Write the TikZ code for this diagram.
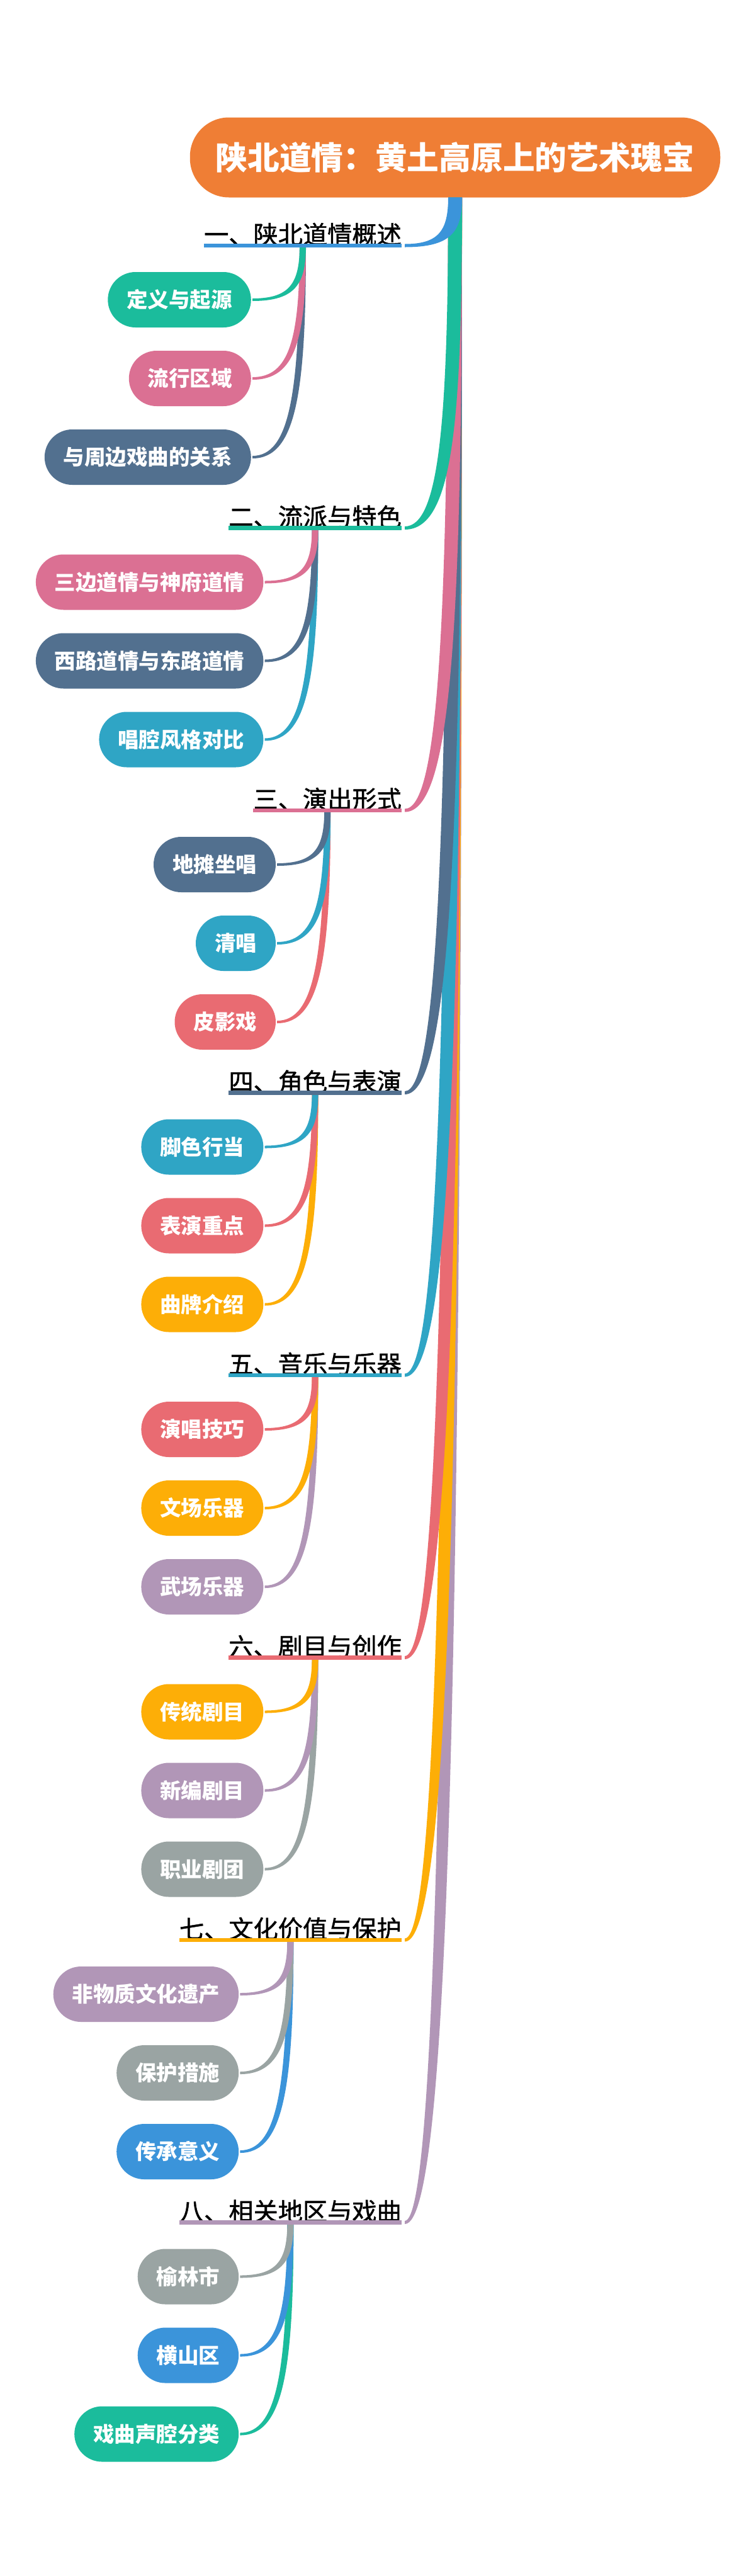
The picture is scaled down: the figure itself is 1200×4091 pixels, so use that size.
\documentclass[tikz,border=0pt]{standalone}
\usepackage{fontspec}
\setmainfont{Noto Sans CJK SC}
\newfontfamily\topicfont{Noto Sans CJK SC}[FakeBold=1.2]
\usetikzlibrary{calc}

\definecolor{cRoot}{HTML}{EF7E35}
\definecolor{cBlue}{HTML}{3B94DA}
\definecolor{cTeal}{HTML}{1BBC9C}
\definecolor{cPink}{HTML}{DB7093}
\definecolor{cSlate}{HTML}{52708F}
\definecolor{cCyan}{HTML}{2FA5C5}
\definecolor{cSalmon}{HTML}{E96B72}
\definecolor{cAmber}{HTML}{FDAE07}
\definecolor{cLilac}{HTML}{B196B7}
\definecolor{cGray}{HTML}{9AA4A3}

% tapered curve: colour, from, to, start width, end width
\newcommand{\limb}[5]{%
  \fill[#1] let \p1=(#2), \p2=(#3) in
    ({\x1-#4/2},\y1) .. controls ({\x1-#4/2},{\y1+0.7*(\y2-\y1)}) and ({\x1-0.2*(\x1-\x2)-#4/2},{\y2+#5/2}) .. (\x2,{\y2+#5/2})
    -- (\x2,{\y2-#5/2}) .. controls ({\x1-0.2*(\x1-\x2)+#4/2},{\y2-#5/2}) and ({\x1+#4/2},{\y1+0.7*(\y2-\y1)}) .. ({\x1+#4/2},\y1) -- cycle;
}

\begin{document}
\begin{tikzpicture}[
    x=1pt, y=-1pt,
    root/.style={%
      fill=cRoot, text=white,
      font=\bfseries\fontsize{50.7}{60}\selectfont,
      rounded corners=62pt, minimum height=127pt,
      inner xsep=41pt, inner ysep=0pt,
    },
    topic/.style={%
      anchor=base east, inner sep=0pt,
      font=\topicfont\fontsize{39.2}{46}\selectfont,
    },
    leaf/.style={%
      fill=#1, text=white, anchor=east,
      font=\bfseries\fontsize{33.5}{40}\selectfont,
      rounded corners=44pt, minimum height=88pt,
      inner xsep=30pt, inner ysep=0pt,
    },
    uline/.style={draw=#1, line width=6.5pt},
  ]
    \fill[white] (0,0) rectangle (1200,4091);

    \node [root] (root) at (723,250) {陕北道情：黄土高原上的艺术瑰宝};

    \node [topic] (overview) at (638,387) {一、陕北道情概述};
    \node [topic] (schools) at (638,835.5) {二、流派与特色};
    \node [topic] (forms) at (638,1284) {三、演出形式};
    \node [topic] (roles) at (638,1732.5) {四、角色与表演};
    \node [topic] (music) at (638,2181) {五、音乐与乐器};
    \node [topic] (repertoire) at (638,2629.5) {六、剧目与创作};
    \node [topic] (heritage) at (638,3078) {七、文化价值与保护};
    \node [topic] (region) at (638,3526.5) {八、相关地区与戏曲};

    \node [leaf=cTeal] (origin) at ([shift={(-82,89)}]overview.base) {定义与起源};
    \node [leaf=cPink] (area) at ([shift={(-82,214)}]overview.base) {流行区域};
    \node [leaf=cSlate] (kin) at ([shift={(-82,339)}]overview.base) {与周边戏曲的关系};

    \node [leaf=cPink] (sanbian) at ([shift={(-82,89)}]schools.base) {三边道情与神府道情};
    \node [leaf=cSlate] (xilu) at ([shift={(-82,214)}]schools.base) {西路道情与东路道情};
    \node [leaf=cCyan] (tunes) at ([shift={(-82,339)}]schools.base) {唱腔风格对比};

    \node [leaf=cSlate] (ditan) at ([shift={(-82,89)}]forms.base) {地摊坐唱};
    \node [leaf=cCyan] (qingchang) at ([shift={(-82,214)}]forms.base) {清唱};
    \node [leaf=cSalmon] (piying) at ([shift={(-82,339)}]forms.base) {皮影戏};

    \node [leaf=cCyan] (hangdang) at ([shift={(-82,89)}]roles.base) {脚色行当};
    \node [leaf=cSalmon] (acting) at ([shift={(-82,214)}]roles.base) {表演重点};
    \node [leaf=cAmber] (qupai) at ([shift={(-82,339)}]roles.base) {曲牌介绍};

    \node [leaf=cSalmon] (singing) at ([shift={(-82,89)}]music.base) {演唱技巧};
    \node [leaf=cAmber] (wenchang) at ([shift={(-82,214)}]music.base) {文场乐器};
    \node [leaf=cLilac] (wuchang) at ([shift={(-82,339)}]music.base) {武场乐器};

    \node [leaf=cAmber] (classic) at ([shift={(-82,89)}]repertoire.base) {传统剧目};
    \node [leaf=cLilac] (newplay) at ([shift={(-82,214)}]repertoire.base) {新编剧目};
    \node [leaf=cGray] (troupe) at ([shift={(-82,339)}]repertoire.base) {职业剧团};

    \node [leaf=cLilac] (intangible) at ([shift={(-82,89)}]heritage.base) {非物质文化遗产};
    \node [leaf=cGray] (measures) at ([shift={(-82,214)}]heritage.base) {保护措施};
    \node [leaf=cBlue] (meaning) at ([shift={(-82,339)}]heritage.base) {传承意义};

    \node [leaf=cGray] (yulin) at ([shift={(-82,89)}]region.base) {榆林市};
    \node [leaf=cBlue] (hengshan) at ([shift={(-82,214)}]region.base) {横山区};
    \node [leaf=cTeal] (shenqiang) at ([shift={(-82,339)}]region.base) {戏曲声腔分类};

    % trunk
    \limb{cLilac}{root.south}{[xshift=5pt,yshift=-3pt]region.base east}{22}{5}
    \limb{cAmber}{root.south}{[xshift=5pt,yshift=-3pt]heritage.base east}{22}{5}
    \limb{cSalmon}{root.south}{[xshift=5pt,yshift=-3pt]repertoire.base east}{22}{5}
    \limb{cCyan}{root.south}{[xshift=5pt,yshift=-3pt]music.base east}{22}{5}
    \limb{cSlate}{root.south}{[xshift=5pt,yshift=-3pt]roles.base east}{22}{5}
    \limb{cPink}{root.south}{[xshift=5pt,yshift=-3pt]forms.base east}{22}{5}
    \limb{cTeal}{root.south}{[xshift=5pt,yshift=-3pt]schools.base east}{22}{5}
    \limb{cBlue}{root.south}{[xshift=5pt,yshift=-3pt]overview.base east}{22}{5}

    % twigs
    \limb{cSlate}{[yshift=-3pt]overview.base}{[xshift=2pt]kin.east}{10}{4}
    \limb{cPink}{[yshift=-3pt]overview.base}{[xshift=2pt]area.east}{10}{4}
    \limb{cTeal}{[yshift=-3pt]overview.base}{[xshift=2pt]origin.east}{10}{4}

    \limb{cCyan}{[yshift=-3pt]schools.base}{[xshift=2pt]tunes.east}{10}{4}
    \limb{cSlate}{[yshift=-3pt]schools.base}{[xshift=2pt]xilu.east}{10}{4}
    \limb{cPink}{[yshift=-3pt]schools.base}{[xshift=2pt]sanbian.east}{10}{4}

    \limb{cSalmon}{[yshift=-3pt]forms.base}{[xshift=2pt]piying.east}{10}{4}
    \limb{cCyan}{[yshift=-3pt]forms.base}{[xshift=2pt]qingchang.east}{10}{4}
    \limb{cSlate}{[yshift=-3pt]forms.base}{[xshift=2pt]ditan.east}{10}{4}

    \limb{cAmber}{[yshift=-3pt]roles.base}{[xshift=2pt]qupai.east}{10}{4}
    \limb{cSalmon}{[yshift=-3pt]roles.base}{[xshift=2pt]acting.east}{10}{4}
    \limb{cCyan}{[yshift=-3pt]roles.base}{[xshift=2pt]hangdang.east}{10}{4}

    \limb{cLilac}{[yshift=-3pt]music.base}{[xshift=2pt]wuchang.east}{10}{4}
    \limb{cAmber}{[yshift=-3pt]music.base}{[xshift=2pt]wenchang.east}{10}{4}
    \limb{cSalmon}{[yshift=-3pt]music.base}{[xshift=2pt]singing.east}{10}{4}

    \limb{cGray}{[yshift=-3pt]repertoire.base}{[xshift=2pt]troupe.east}{10}{4}
    \limb{cLilac}{[yshift=-3pt]repertoire.base}{[xshift=2pt]newplay.east}{10}{4}
    \limb{cAmber}{[yshift=-3pt]repertoire.base}{[xshift=2pt]classic.east}{10}{4}

    \limb{cBlue}{[yshift=-3pt]heritage.base}{[xshift=2pt]meaning.east}{10}{4}
    \limb{cGray}{[yshift=-3pt]heritage.base}{[xshift=2pt]measures.east}{10}{4}
    \limb{cLilac}{[yshift=-3pt]heritage.base}{[xshift=2pt]intangible.east}{10}{4}

    \limb{cTeal}{[yshift=-3pt]region.base}{[xshift=2pt]shenqiang.east}{10}{4}
    \limb{cBlue}{[yshift=-3pt]region.base}{[xshift=2pt]hengshan.east}{10}{4}
    \limb{cGray}{[yshift=-3pt]region.base}{[xshift=2pt]yulin.east}{10}{4}

    % underlines
    \draw [uline=cBlue] ([yshift=-3pt]overview.base west) -- ([yshift=-3pt]overview.base east);
    \draw [uline=cTeal] ([yshift=-3pt]schools.base west) -- ([yshift=-3pt]schools.base east);
    \draw [uline=cPink] ([yshift=-3pt]forms.base west) -- ([yshift=-3pt]forms.base east);
    \draw [uline=cSlate] ([yshift=-3pt]roles.base west) -- ([yshift=-3pt]roles.base east);
    \draw [uline=cCyan] ([yshift=-3pt]music.base west) -- ([yshift=-3pt]music.base east);
    \draw [uline=cSalmon] ([yshift=-3pt]repertoire.base west) -- ([yshift=-3pt]repertoire.base east);
    \draw [uline=cAmber] ([yshift=-3pt]heritage.base west) -- ([yshift=-3pt]heritage.base east);
    \draw [uline=cLilac] ([yshift=-3pt]region.base west) -- ([yshift=-3pt]region.base east);
\end{tikzpicture}
\end{document}
